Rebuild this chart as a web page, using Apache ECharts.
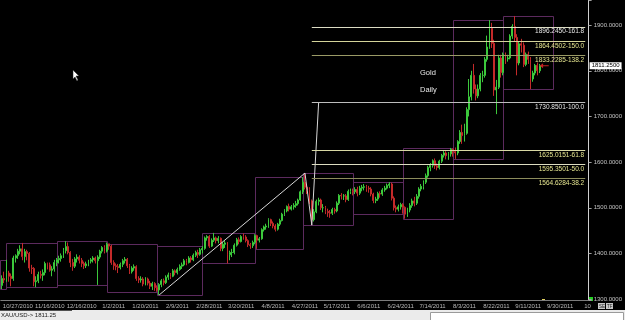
<!DOCTYPE html>
<html><head><meta charset="utf-8">
<script src="https://cdn.jsdelivr.net/npm/echarts@6/dist/echarts.min.js"></script>
<style>html,body{margin:0;padding:0;background:#000;}#c{width:625px;height:320px;}</style>
</head><body><div id="c"></div>
<script>
// ---------- data ----------
const symbolName = 'XAU/USD';
const chartTitle = 'Gold';
const chartPeriod = 'Daily';
const barCount = 258;                       // category slots on the x axis (incl. empty future slots)
const dateLabels = ['10/27/2010','11/16/2010','12/16/2010','1/2/2011','1/20/2011','2/9/2011','2/28/2011','3/20/2011','4/8/2011','4/27/2011','5/17/2011','6/6/2011','6/24/2011','7/14/2011','8/3/2011','8/22/2011','9/11/2011','9/30/2011','10'];
const labelFirstBar = 7, labelEveryBars = 14;
const priceTicks = [1300,1400,1500,1600,1700,1800,1900];

// daily candles per month: [open, close, low, high]
const octBars = [[1330,1345,1322,1352],[1345,1342,1335,1360],[1342,1358,1338,1386]];
const novBars = [[1357,1350,1338,1362],[1350,1345,1328,1356],[1345,1390,1340,1395],[1390,1395,1380,1398],[1395,1405,1388,1410],[1405,1410,1398,1418],[1410,1393,1385,1423],[1393,1404,1380,1410],[1404,1400,1385,1408],[1400,1368,1360,1403],[1368,1367,1355,1375],[1367,1338,1328,1370],[1338,1340,1326,1350],[1340,1354,1335,1360],[1354,1352,1345,1362],[1352,1358,1340,1365],[1358,1378,1352,1382],[1378,1375,1365,1380],[1375,1363,1360,1380],[1363,1366,1350,1372],[1366,1380,1360,1386],[1380,1386,1372,1390]];
const decBars = [[1386,1389,1378,1395],[1389,1395,1382,1400],[1395,1406,1390,1412],[1406,1415,1400,1427],[1415,1402,1398,1424],[1402,1380,1370,1405],[1380,1372,1362,1388],[1372,1388,1368,1392],[1388,1392,1380,1398],[1392,1385,1378,1396],[1385,1378,1370,1390],[1378,1373,1366,1382],[1373,1377,1368,1382],[1377,1383,1372,1386],[1383,1386,1378,1390],[1386,1390,1380,1394],[1390,1384,1378,1393],[1384,1392,1331,1396],[1392,1405,1388,1408],[1405,1413,1400,1416],[1413,1405,1400,1418],[1405,1420,1402,1424]];
const janBars = [[1421,1416,1408,1421],[1416,1380,1375,1419],[1380,1373,1364,1385],[1373,1371,1363,1378],[1371,1369,1357,1377],[1369,1376,1365,1380],[1376,1384,1370,1388],[1384,1387,1378,1392],[1387,1373,1368,1390],[1373,1360,1355,1377],[1360,1368,1356,1372],[1368,1371,1362,1376],[1371,1345,1340,1374],[1345,1342,1335,1350],[1342,1344,1336,1350],[1344,1333,1328,1348],[1333,1344,1330,1348],[1344,1335,1330,1347],[1335,1328,1322,1340],[1328,1334,1320,1338],[1334,1325,1318,1337],[1325,1320,1316,1330]];
const febBars = [[1320,1332,1309,1335],[1332,1340,1326,1344],[1340,1336,1330,1345],[1336,1348,1333,1352],[1348,1353,1342,1358],[1353,1350,1344,1357],[1350,1362,1348,1366],[1362,1358,1352,1365],[1358,1365,1354,1369],[1365,1372,1362,1376],[1372,1375,1366,1380],[1375,1384,1372,1388],[1384,1380,1374,1388],[1380,1390,1378,1394],[1390,1386,1380,1394],[1386,1396,1383,1400],[1396,1402,1392,1406],[1402,1398,1390,1408],[1398,1408,1395,1412],[1408,1411,1400,1416]];
const marBars = [[1411,1434,1408,1437],[1434,1437,1428,1440],[1437,1416,1412,1440],[1416,1429,1414,1433],[1429,1434,1425,1445],[1434,1428,1422,1437],[1428,1433,1422,1438],[1433,1411,1405,1435],[1411,1420,1405,1425],[1420,1423,1412,1428],[1423,1397,1378,1425],[1397,1402,1385,1406],[1402,1402,1392,1410],[1402,1418,1398,1422],[1418,1430,1415,1434],[1430,1426,1420,1435],[1426,1437,1424,1440],[1437,1436,1430,1444],[1436,1428,1424,1440],[1428,1419,1414,1431],[1419,1417,1410,1423],[1417,1424,1412,1428],[1424,1439,1420,1442]];
const aprBars = [[1439,1429,1410,1441],[1429,1432,1424,1436],[1432,1452,1430,1455],[1452,1458,1448,1461],[1458,1460,1452,1465],[1460,1474,1456,1477],[1474,1466,1460,1476],[1466,1460,1455,1470],[1460,1453,1448,1464],[1453,1464,1450,1467],[1464,1472,1460,1476],[1472,1486,1470,1489],[1486,1493,1482,1497],[1493,1503,1490,1505],[1503,1497,1492,1509],[1497,1502,1494,1506],[1502,1505,1496,1510],[1505,1509,1500,1515],[1509,1517,1505,1520],[1517,1535,1515,1538],[1535,1556,1530,1567]];
const mayBars = [[1556,1545,1540,1576],[1545,1540,1530,1552],[1540,1515,1508,1545],[1515,1474,1462,1518],[1474,1491,1470,1497],[1491,1514,1488,1518],[1514,1517,1505,1522],[1517,1500,1495,1520],[1500,1500,1490,1508],[1500,1492,1486,1504],[1492,1489,1480,1498],[1489,1488,1478,1495],[1488,1496,1484,1500],[1496,1493,1487,1500],[1493,1510,1490,1514],[1510,1527,1506,1530],[1527,1526,1518,1532],[1526,1526,1517,1530],[1526,1518,1512,1530],[1518,1536,1515,1540],[1536,1536,1530,1542],[1536,1535,1527,1542]];
const junBars = [[1535,1540,1530,1545],[1540,1532,1525,1546],[1532,1543,1528,1548],[1543,1545,1536,1550],[1545,1546,1538,1552],[1546,1543,1535,1550],[1543,1541,1533,1548],[1541,1530,1525,1545],[1530,1516,1510,1533],[1516,1519,1510,1524],[1519,1531,1515,1535],[1531,1530,1522,1536],[1530,1539,1526,1543],[1539,1543,1535,1548],[1543,1549,1540,1553],[1549,1552,1543,1556],[1552,1521,1516,1555],[1521,1500,1494,1525],[1500,1497,1490,1505],[1497,1502,1492,1507],[1502,1507,1496,1511],[1507,1501,1487,1510]];
const julBars = [[1501,1486,1476,1503],[1486,1495,1480,1500],[1495,1505,1490,1510],[1505,1515,1500,1520],[1515,1510,1503,1524],[1510,1525,1506,1530],[1525,1541,1520,1545],[1541,1547,1536,1552],[1547,1556,1540,1560],[1556,1570,1552,1575],[1570,1588,1566,1592],[1588,1593,1580,1598],[1593,1603,1588,1606],[1603,1592,1585,1608],[1592,1588,1582,1597],[1588,1602,1584,1605],[1602,1615,1598,1618],[1615,1620,1610,1625],[1620,1614,1606,1624],[1614,1618,1605,1622],[1618,1628,1612,1631],[1628,1623,1612,1630]];
const augBars = [[1623,1620,1607,1632],[1620,1645,1615,1648],[1645,1665,1640,1670],[1665,1658,1640,1682],[1658,1663,1645,1684],[1663,1715,1660,1720],[1715,1743,1700,1782],[1743,1790,1735,1800],[1790,1760,1750,1815],[1760,1745,1735,1770],[1745,1760,1740,1770],[1760,1790,1755,1795],[1790,1790,1775,1800],[1790,1825,1785,1830],[1825,1852,1820,1877],[1852,1893,1848,1911],[1893,1860,1850,1905],[1860,1758,1745,1868],[1758,1764,1705,1780],[1764,1828,1760,1835],[1828,1796,1785,1835],[1796,1836,1790,1840]];
const sepBars = [[1836,1826,1815,1840],[1826,1828,1820,1835],[1828,1876,1825,1880],[1876,1897,1870,1902],[1897,1873,1865,1920],[1873,1817,1790,1880],[1817,1859,1812,1865],[1859,1856,1840,1870],[1856,1814,1808,1862],[1814,1836,1810,1840],[1836,1825,1815,1842],[1825,1782,1760,1830],[1782,1795,1776,1800],[1795,1812,1790,1815],[1812,1800,1790,1818],[1800,1811.25,1795,1815]];

// Fibonacci extension levels (price, percent) as printed on the chart
const fibPrices = [1896.2450, 1864.4502, 1833.2285, 1730.8501, 1625.0151, 1595.3501, 1564.6284];
const fibPercents = ['161.8','150.0','138.2','100.0','61.8','50.0','38.2'];
// swing points of the extension tool: bar of A (low), B (high), C (low), D (100% target)
const swingBars = [69, 133, 136, 139];
const fibFromBar = 136, fibToBar = 256;
const lastPrice = 1811.25;

// ---------- build ----------
const months = [octBars, novBars, decBars, janBars, febBars, marBars, aprBars, mayBars, junBars, julBars, augBars, sepBars];
const ohlc = [].concat(...months);
const categories = Array.from({length: barCount}, (_, i) => String(i));
const boxes = [];
let start = 0;
months.forEach((m, k) => {
  let lo = Infinity, hi = -Infinity;
  m.forEach(c => { lo = Math.min(lo, c[2]); hi = Math.max(hi, c[3]); });
  const endBar = (k === months.length - 1) ? start + 21 : start + m.length - 1;
  boxes.push([start - 1, endBar, lo, hi]);
  start += m.length;
});
const labelAt = new Map();
dateLabels.forEach((t, k) => labelAt.set(Math.min(labelFirstBar + labelEveryBars * k, barCount - 1), t));
const swingPrices = [ohlc[swingBars[0]][2], ohlc[swingBars[1]][3], ohlc[swingBars[2]][2], fibPrices[3]];
const lastBar = ohlc.length - 1;

const FONT = "'Liberation Sans Narrow','Liberation Sans',Arial,sans-serif";
const fibLineColors = ['#dcdcc4','#d4d49a','#9a9a66','#bdbdbd','#d8d8a4','#dcdcc0','#8c8c5c'];
const fibTextColors = ['#e6e6e6','#e6e690','#e6e690','#e6e6e6','#e6e690','#e6e690','#e6e690'];

const fibMarkLines = fibPrices.map((p, i) => [
  {coord: [String(fibFromBar), p], lineStyle: {color: fibLineColors[i], width: 1, type: 'solid'},
   label: {show: true, position: 'insideEndBottom', distance: [1, 1], formatter: p.toFixed(4) + '-' + fibPercents[i],
           color: fibTextColors[i], fontSize: 6.5, fontFamily: FONT}},
  {coord: [String(fibToBar), p]}
]);
fibMarkLines.push({yAxis: lastPrice, lineStyle: {color: 'rgba(0,0,0,0)', width: 1, type: 'solid'},
  label: {show: true, position: 'end', distance: 1, formatter: lastPrice.toFixed(4), color: '#000',
          backgroundColor: '#ffffff', padding: [1, 2, 0, 2], fontSize: 6, fontFamily: FONT}});

const chart = echarts.init(document.getElementById('c'));
chart.setOption({
  backgroundColor: '#000',
  animation: false,
  grid: {left: 0, right: 32, top: 0, bottom: 20},
  xAxis: {
    type: 'category', data: categories, boundaryGap: true,
    axisLine: {lineStyle: {color: '#7c7c7c'}}, axisTick: {show: false}, splitLine: {show: false},
    axisLabel: {interval: i => labelAt.has(i), formatter: (v, i) => labelAt.get(i) || '',
      color: '#b8b8b8', fontSize: 6, fontFamily: FONT, margin: 3, hideOverlap: false}
  },
  yAxis: {
    type: 'value', position: 'right', min: 1298, max: 1955, splitNumber: 6,
    axisLine: {show: true, lineStyle: {color: '#d0d0d0'}},
    axisTick: {show: true, length: 3, lineStyle: {color: '#a0a0a0'}},
    splitLine: {show: false},
    axisLabel: {color: '#c4c4c4', fontSize: 6, fontFamily: FONT, margin: 5,
      formatter: v => priceTicks.includes(v) ? v.toFixed(4) : ''}
  },
  series: [
    {type: 'custom', silent: true, z: 1, data: boxes, encode: {x: [0, 1], y: [2, 3]},
      renderItem: (params, api) => {
        const p1 = api.coord([api.value(0), api.value(3)]);
        const p2 = api.coord([api.value(1), api.value(2)]);
        return {type: 'rect', shape: {x: Math.round(p1[0]) + 0.5, y: Math.round(p1[1]) + 0.5,
          width: Math.round(p2[0]) - Math.round(p1[0]), height: Math.round(p2[1]) - Math.round(p1[1])},
          style: {fill: 'none', stroke: '#5c2a5e', lineWidth: 1}};
      }},
    {type: 'candlestick', z: 3, clip: false, data: ohlc, barWidth: 1.4,
      itemStyle: {color: '#3cc83c', color0: '#c42a2a', borderColor: '#3cc83c', borderColor0: '#c42a2a', borderWidth: 1},
      markLine: {silent: true, symbol: 'none', animation: false, data: fibMarkLines},
      markPoint: {silent: true, animation: false, data: [{coord: [String(lastBar + 2), lastPrice],
        symbol: 'path://M0,5 L6,0 L6,4 L16,4 L16,6 L6,6 L6,10 Z', symbolSize: [9, 5],
        itemStyle: {color: '#c42020'}, label: {show: false}}]}
    },
    {type: 'line', z: 4, silent: true, symbol: 'none',
      data: swingBars.map((b, i) => [String(b), swingPrices[i]]),
      lineStyle: {color: '#d8d8d8', width: 1}}
  ],
  graphic: [
    {type: 'text', left: 420, top: 69, style: {text: chartTitle, fill: '#e8e8e8', fontSize: 7.5, fontFamily: 'Liberation Sans, Arial'}},
    {type: 'text', left: 420, top: 86, style: {text: chartPeriod, fill: '#e8e8e8', fontSize: 7.5, fontFamily: 'Liberation Sans, Arial'}},
    {type: 'polygon', x: 73, y: 70, shape: {points: [[0,0],[0,9],[2,7],[4,11],[5,10],[3,6],[6,6]]}, style: {fill: '#fff', stroke: '#222', lineWidth: 0.5}},
    {type: 'rect', x: 588, y: 297, shape: {width: 5, height: 4}, style: {fill: '#22d022'}},
    {type: 'rect', x: 542, y: 299, shape: {width: 3, height: 2}, style: {fill: '#e0d060'}},
    {type: 'rect', x: 598, y: 303, shape: {width: 7, height: 6}, style: {fill: '#c8c8c8'}},
    {type: 'rect', x: 606, y: 303, shape: {width: 7, height: 6}, style: {fill: '#c8c8c8'}},
    {type: 'text', x: 599, y: 304, style: {text: 'SE', fill: '#202020', fontSize: 4.5, fontFamily: FONT}},
    {type: 'text', x: 607, y: 304, style: {text: 'TF', fill: '#202020', fontSize: 4.5, fontFamily: FONT}},
    {type: 'rect', x: 0, y: 310, shape: {width: 625, height: 10}, style: {fill: '#ebebeb'}},
    {type: 'line', shape: {x1: 0, y1: 310.5, x2: 72, y2: 310.5}, style: {stroke: '#505050', lineWidth: 1}},
    {type: 'rect', x: 430.5, y: 312.5, shape: {width: 193, height: 9}, style: {fill: '#ffffff', stroke: '#9a9a9a', lineWidth: 1}},
    {type: 'text', x: 1, y: 312, style: {text: symbolName + '-> ' + lastPrice, fill: '#202020', fontSize: 6, fontFamily: FONT}}
  ]
});
</script></body></html>
